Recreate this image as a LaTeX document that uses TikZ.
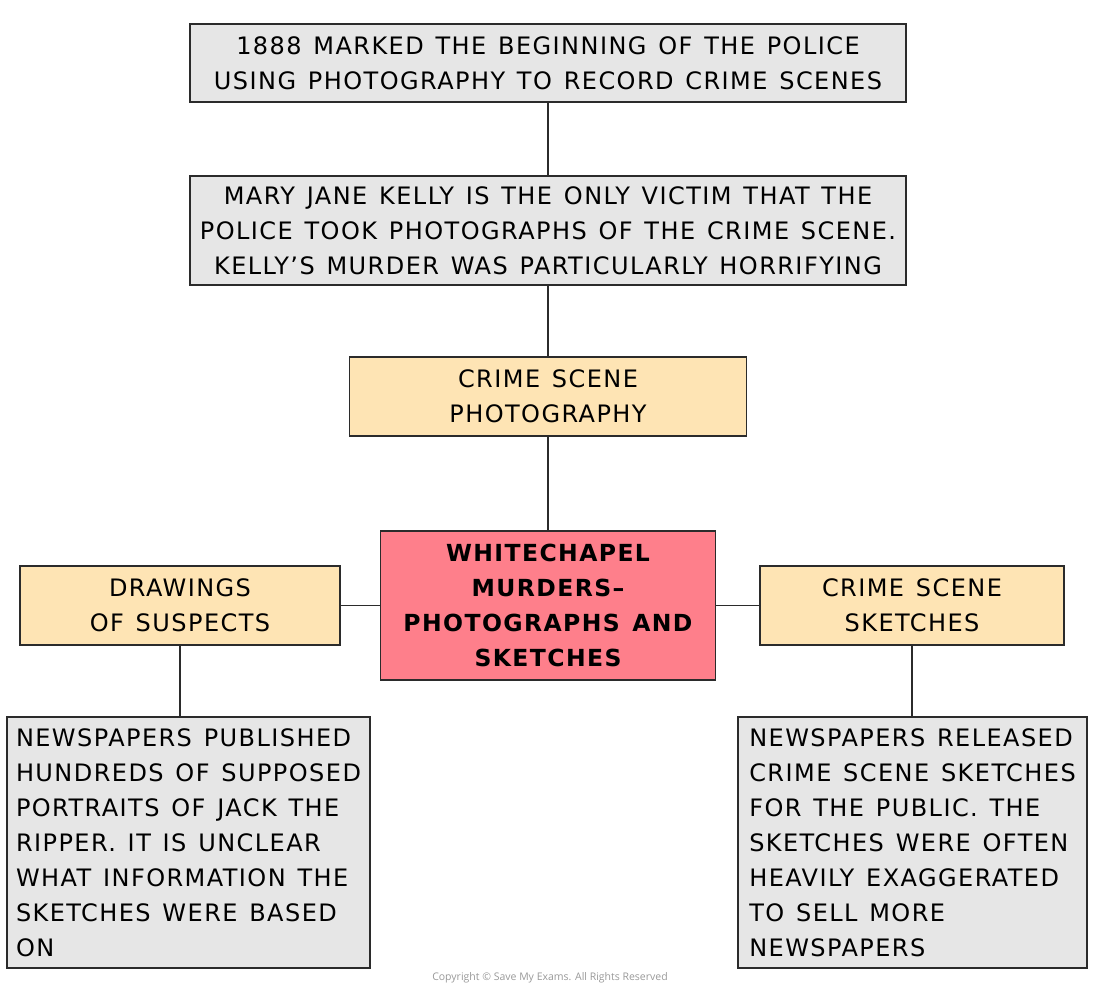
\documentclass[tikz,border=0pt]{standalone}
\usepackage{fontspec}
\setmainfont{DejaVu Sans}[LetterSpace=6, WordSpace=1.3]
\newfontfamily\copyfont{Open Sans}
\definecolor{boxgray}{HTML}{E6E6E6}
\definecolor{boxorange}{HTML}{FEE4B4}
\definecolor{boxpink}{HTML}{FE7F8B}
\definecolor{edgecol}{HTML}{2B2B2B}
\tikzset{
  base/.style={draw=edgecol, line width=1.3pt, inner sep=0pt, font=\fontsize{24}{35}\selectfont},
  graybox/.style={base, fill=boxgray},
  orangebox/.style={base, fill=boxorange, align=center},
  pinkbox/.style={base, fill=boxpink, align=center, font=\fontsize{23.5}{35}\selectfont\bfseries},
  link/.style={draw=edgecol, line width=1.3pt}
}
\begin{document}
\begin{tikzpicture}[x=1pt,y=-1pt]
\useasboundingbox (0,0) rectangle (1100,990);
\node[graybox, align=center, minimum width=716pt, minimum height=78pt] (b1) at (548,63)
  {1888 MARKED THE BEGINNING OF THE POLICE\\USING PHOTOGRAPHY TO RECORD CRIME SCENES};
\node[graybox, align=center, minimum width=716pt, minimum height=109pt] (b2) at (548,230.5)
  {MARY JANE KELLY IS THE ONLY VICTIM THAT THE\\POLICE TOOK PHOTOGRAPHS OF THE CRIME SCENE.\\KELLY’S MURDER WAS PARTICULARLY HORRIFYING};
\node[orangebox, minimum width=397pt, minimum height=79pt] (b3) at (548,396.5)
  {CRIME SCENE\\PHOTOGRAPHY};
\node[pinkbox, minimum width=335pt, minimum height=149pt] (b4) at (548,605.5)
  {WHITECHAPEL\\MURDERS–\\PHOTOGRAPHS AND\\SKETCHES};
\node[orangebox, minimum width=320pt, minimum height=79pt] (b5) at (180,605.5)
  {DRAWINGS\\OF SUSPECTS};
\node[orangebox, minimum width=304pt, minimum height=79pt] (b6) at (912,605.5)
  {CRIME SCENE\\SKETCHES};
\node[graybox, align=left, minimum width=363pt, minimum height=251pt] (b7) at (188.5,842.5)
  {NEWSPAPERS PUBLISHED\\HUNDREDS OF SUPPOSED\\PORTRAITS OF JACK THE\\RIPPER. IT IS UNCLEAR\\WHAT INFORMATION THE\\SKETCHES WERE BASED\\ON};
\node[graybox, align=left, minimum width=349pt, minimum height=251pt] (b8) at (912.5,842.5)
  {NEWSPAPERS RELEASED\\CRIME SCENE SKETCHES\\FOR THE PUBLIC. THE\\SKETCHES WERE OFTEN\\HEAVILY EXAGGERATED\\TO SELL MORE\\NEWSPAPERS};
\node[font=\copyfont\fontsize{10.5}{12}\selectfont, text=black!40] (copy) at (550,978)
  {Copyright © Save My Exams. All Rights Reserved};
\draw[link] (b1.south) -- (b2.north);
\draw[link] (b2.south) -- (b3.north);
\draw[link] (b3.south) -- (b4.north);
\draw[link] (b5.east) -- (b4.west);
\draw[link] (b6.west) -- (b4.east);
\draw[link] (b5.south) -- (b5.south |- b7.north);
\draw[link] (b6.south) -- (b6.south |- b8.north);
\end{tikzpicture}
\end{document}
